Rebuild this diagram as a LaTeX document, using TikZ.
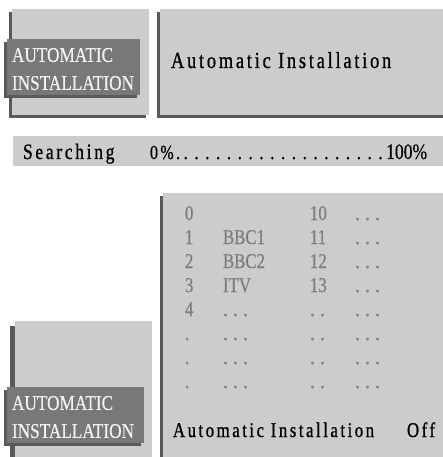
\documentclass[tikz,border=0pt]{standalone}
\usepackage{fontspec}
\setmainfont{Liberation Serif}
\newfontfamily\screenfont[FakeStretch=0.8,LetterSpace=12,FakeBold=0.8]{Liberation Serif}
\newfontfamily\labelfont[FakeStretch=0.82,FakeBold=0.5]{Liberation Serif}
\newfontfamily\listfont[FakeStretch=0.8,FakeBold=0.4]{Liberation Serif}
\newfontfamily\dotfont[LetterSpace=25,FakeBold=1]{Liberation Serif}
\usepackage{tikz}
\usetikzlibrary{matrix, positioning, shadows}
\definecolor{panelgray}{HTML}{CCCCCC}
\definecolor{shadowgray}{HTML}{595959}
\definecolor{labelgray}{HTML}{787878}
\definecolor{listgray}{HTML}{7C7C7C}
\definecolor{labeltext}{HTML}{F2F2F2}

\begin{document}
\begin{tikzpicture}[x=1pt, y=-1pt, every node/.append style={inner sep=0pt, outer sep=0pt},
    panel/.style={fill=panelgray, anchor=north west, drop shadow={shadow xshift=-#1, shadow yshift=-#1, fill=shadowgray, opacity=1}},
    panel/.default=3pt,
    menulabel/.style={fill=labelgray, text=labeltext, anchor=north west, align=left, text width=123pt, inner xsep=5pt, minimum height=56pt,
        font=\labelfont\fontsize{21}{28}\selectfont, execute at begin node=\rule{0pt}{18pt},
        drop shadow={shadow xshift=-3pt, shadow yshift=-3pt, fill=shadowgray, opacity=1}},
    screen/.style={font=\screenfont\fontsize{#1}{#1}\selectfont, anchor=base west},
    screen/.default=20,
    gap/.style={font=\dotfont\fontsize{20}{20}\selectfont},
    chlist/.style={matrix of nodes, anchor=north west, inner sep=0pt,
        nodes={text=listgray, font=\listfont\fontsize{21}{21}\selectfont, text height=14pt, text depth=10pt, anchor=base west, inner sep=0pt},
        column 1/.style={nodes={text width=38pt}}, column 2/.style={nodes={text width=87pt}},
        column 3/.style={nodes={text width=45pt}}, column 4/.style={nodes={text width=40pt}}}]
    \useasboundingbox (0,0) rectangle (443,457);
    \node[panel, minimum width=137pt, minimum height=106pt] (menuTop) at (12,9) {};
    \node[panel, minimum width=290pt, minimum height=106pt] (infoTop) at (160,9) {};
    \node[menulabel] (labelTop) at (7,39) {AUTOMATIC\\INSTALLATION};
    \node[screen=23] (titleTop) at (171,68) {Automatic Installation};
    \node[fill=panelgray, anchor=north west, minimum width=440pt, minimum height=30pt] (searchBar) at (13,136) {};
    \node[screen=22] (searchText) at (23,159) {Searching};
    \node[screen] (searchDots) at (150,159) {0\%.\xleaders\hbox to 10.4pt{\hss.\hss}\hskip 206pt\relax {\listfont\fontsize{22}{22}\selectfont 100\%}};
    \node[panel=5pt, minimum width=137pt, minimum height=140pt] (menuBottom) at (15,321) {};
    \node[panel, minimum width=290pt, minimum height=270pt] (infoBottom) at (163,193) {};
    \node[menulabel, text width=127pt] (labelBottom) at (7,387) {AUTOMATIC\\INSTALLATION};
    \matrix[chlist] (channels) at (185,206) {
        0 & & 10 & |[gap]| ... \\
        1 & BBC1 & 11 & |[gap]| ... \\
        2 & BBC2 & 12 & |[gap]| ... \\
        3 & ITV & 13 & |[gap]| ... \\
        4 & |[gap]| ... & |[gap]| .. & |[gap]| ... \\
        . & |[gap]| ... & |[gap]| .. & |[gap]| ... \\
        . & |[gap]| ... & |[gap]| .. & |[gap]| ... \\
        . & |[gap]| ... & |[gap]| .. & |[gap]| ... \\
    };
    \node[screen=21] (titleBottom) at (173,437) {Automatic Installation};
    \node[screen=21] (stateBottom) at (407,437) {Off};
\end{tikzpicture}
\end{document}
